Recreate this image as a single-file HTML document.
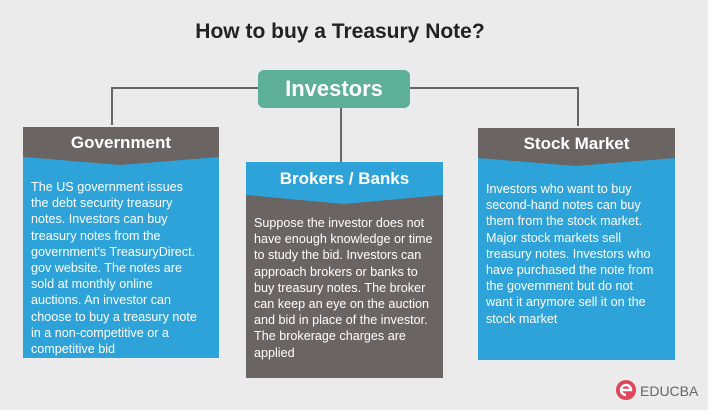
<!DOCTYPE html>
<html><head><style>
body{margin:0;width:720px;height:416px;background:#fff;font-family:"Liberation Sans",sans-serif;position:relative;overflow:hidden}
.bg{position:absolute;left:0;top:0;width:708px;height:410px;background:#ebebeb}
.t{position:absolute;left:0;width:680px;top:20px;text-align:center;font-weight:bold;font-size:21px;color:#222}
.inv{position:absolute;left:258px;top:70px;width:152px;height:38px;background:#5daf96;border-radius:6px;color:#fff;font-weight:bold;font-size:22px;text-align:center;line-height:38px}
.ln{position:absolute;background:#666}
.hd{position:absolute;color:#fff;font-weight:bold;font-size:17px;text-align:center}
.bd{position:absolute;color:#fff;font-size:12.6px;line-height:16.2px;padding:0 8px;box-sizing:border-box;white-space:nowrap}
.g{background:#6a6462}.b{background:#2ea3da}
</style></head><body>
<div class="bg"></div>
<div class="t">How to buy a Treasury Note?</div>
<div class="ln" style="left:112px;top:87px;width:146px;height:2px"></div>
<div class="ln" style="left:111px;top:87px;width:2px;height:38px"></div>
<div class="ln" style="left:410px;top:87px;width:168px;height:2px"></div>
<div class="ln" style="left:577px;top:87px;width:2px;height:39px"></div>
<div class="ln" style="left:340px;top:108px;width:2px;height:54px"></div>
<div class="inv">Investors</div>

<div class="bd b" style="left:23px;top:155px;width:196px;height:203px;padding-top:24px">The US government issues<br>the debt security treasury<br>notes. Investors can buy<br>treasury notes from the<br>government's TreasuryDirect.<br>gov website. The notes are<br>sold at monthly online<br>auctions. An investor can<br>choose to buy a treasury note<br>in a non-competitive or a<br>competitive bid</div>
<svg style="position:absolute;left:23px;top:127px" width="196" height="40"><polygon points="0,0 196,0 196,30 98,38 0,30" fill="#6a6462"/></svg>
<div class="hd" style="left:23px;top:133px;width:196px">Government</div>

<div class="bd g" style="left:246px;top:190px;width:197px;height:188px;padding-top:25px">Suppose the investor does not<br>have enough knowledge or time<br>to study the bid. Investors can<br>approach brokers or banks to<br>buy treasury notes. The broker<br>can keep an eye on the auction<br>and bid in place of the investor.<br>The brokerage charges are<br>applied</div>
<svg style="position:absolute;left:246px;top:162px" width="197" height="42"><polygon points="0,0 197,0 197,33 98,42 0,33" fill="#2ea3da"/></svg>
<div class="hd" style="left:246px;top:169px;width:197px">Brokers / Banks</div>

<div class="bd b" style="left:478px;top:155px;width:197px;height:205px;padding-top:26px">Investors who want to buy<br>second-hand notes can buy<br>them from the stock market.<br>Major stock markets sell<br>treasury notes. Investors who<br>have purchased the note from<br>the government but do not<br>want it anymore sell it on the<br>stock market</div>
<svg style="position:absolute;left:478px;top:128px" width="197" height="40"><polygon points="0,0 197,0 197,30 98,38 0,30" fill="#6a6462"/></svg>
<div class="hd" style="left:478px;top:134px;width:197px">Stock Market</div>

<svg style="position:absolute;left:614px;top:378px" width="24" height="24"><circle cx="12" cy="12" r="10" fill="#e0465a"/><path d="M6 12 H17 A5 5 0 1 0 12 17" stroke="#fff" stroke-width="2.5" fill="none"/></svg>
<div style="position:absolute;left:640px;top:383px;font-size:14px;color:#666">EDUCBA</div>
</body></html>
